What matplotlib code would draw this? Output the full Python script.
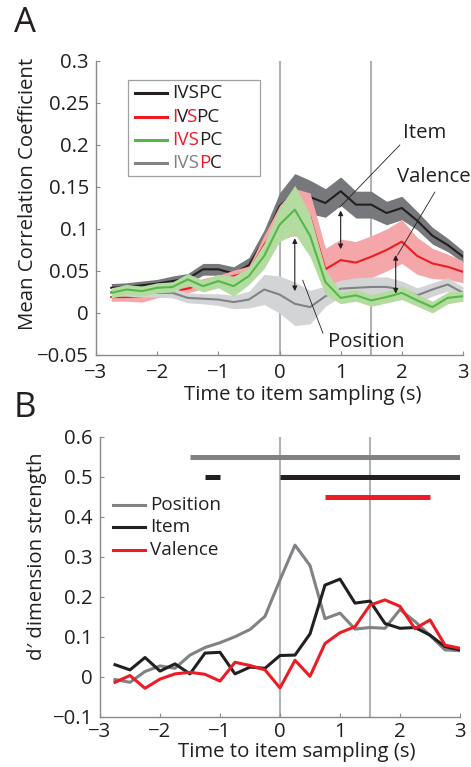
import numpy as np
import matplotlib
matplotlib.use("Agg")
import matplotlib.pyplot as plt
from matplotlib.patches import Rectangle
from matplotlib.lines import Line2D
from matplotlib.ticker import FuncFormatter

plt.rcParams['font.family'] = ['Open Sans', 'DejaVu Sans']

# ---------------- data ----------------
t = [-2.75, -2.5, -2.25, -2.0, -1.75, -1.5, -1.25, -1.0, -0.75, -0.5, -0.25, 0.0,
     0.25, 0.5, 0.75, 1.0, 1.25, 1.5, 1.75, 2.0, 2.25, 2.5, 2.75, 3.0]

# Panel A: mean correlation coefficient
item_corr = [0.030, 0.031, 0.033, 0.035, 0.038, 0.041, 0.052, 0.052, 0.047, 0.057, 0.087, 0.127,
             0.143, 0.138, 0.131, 0.145, 0.129, 0.129, 0.119, 0.125, 0.110, 0.092, 0.081, 0.067]
item_sem = [0.005, 0.005, 0.005, 0.005, 0.006, 0.006, 0.007, 0.007, 0.008, 0.009, 0.012, 0.016,
            0.023, 0.020, 0.017, 0.017, 0.016, 0.016, 0.014, 0.014, 0.011, 0.010, 0.008, 0.007]
val_corr = [0.019, 0.019, 0.020, 0.023, 0.026, 0.029, 0.035, 0.039, 0.044, 0.049, 0.081, 0.108,
            0.120, 0.115, 0.052, 0.063, 0.060, 0.067, 0.075, 0.085, 0.068, 0.059, 0.055, 0.049]
val_sem = [0.005, 0.005, 0.007, 0.005, 0.005, 0.005, 0.006, 0.006, 0.007, 0.007, 0.012, 0.020,
           0.028, 0.028, 0.025, 0.025, 0.025, 0.025, 0.025, 0.026, 0.022, 0.018, 0.015, 0.013]
pos_corr = [0.024, 0.028, 0.026, 0.030, 0.031, 0.040, 0.032, 0.038, 0.032, 0.044, 0.068, 0.105,
            0.123, 0.092, 0.037, 0.018, 0.021, 0.015, 0.019, 0.024, 0.015, 0.007, 0.018, 0.020]
pos_sem = [0.006, 0.006, 0.006, 0.006, 0.006, 0.007, 0.007, 0.008, 0.012, 0.010, 0.015, 0.020,
           0.029, 0.025, 0.015, 0.007, 0.007, 0.007, 0.007, 0.008, 0.007, 0.007, 0.007, 0.006]
ctrl_corr = [0.025, 0.025, 0.024, 0.024, 0.024, 0.018, 0.017, 0.016, 0.013, 0.016, 0.028, 0.022,
             0.011, 0.007, 0.020, 0.029, 0.030, 0.031, 0.031, 0.028, 0.021, 0.028, 0.034, 0.024]
ctrl_sem = [0.005, 0.005, 0.005, 0.005, 0.006, 0.006, 0.006, 0.007, 0.008, 0.010, 0.018, 0.022,
            0.026, 0.020, 0.012, 0.010, 0.012, 0.012, 0.012, 0.010, 0.009, 0.008, 0.008, 0.007]

# Panel B: d' dimension strength
pos_d = [-0.007, -0.014, 0.013, 0.027, 0.021, 0.054, 0.073, 0.085, 0.100, 0.118, 0.151, 0.242,
         0.329, 0.278, 0.145, 0.159, 0.119, 0.123, 0.121, 0.168, 0.138, 0.103, 0.067, 0.065]
item_d = [0.030, 0.017, 0.048, 0.014, 0.032, 0.007, 0.059, 0.061, 0.007, 0.024, 0.021, 0.053,
          0.054, 0.107, 0.229, 0.244, 0.184, 0.189, 0.133, 0.121, 0.123, 0.104, 0.075, 0.067]
val_d = [-0.014, 0.003, -0.029, -0.006, 0.007, 0.011, 0.006, -0.011, 0.036, 0.028, 0.017, -0.028,
         0.041, 0.001, 0.083, 0.110, 0.125, 0.179, 0.192, 0.176, 0.120, 0.142, 0.079, 0.071]

# significance bars: (start, end, level)
pos_sig = [(-1.5, 3.0, 0.55)]
item_sig = [(-1.25, -1.0, 0.50), (0.0, 3.0, 0.50)]
val_sig = [(0.75, 2.5, 0.45)]

event_times = [0.0, 1.5]

# ---------------- styling ----------------
C_BLACK = '#231f20'
C_RED = '#ed1c24'
C_GREEN = '#54b848'
C_GRAY = '#808285'
B_BLACK = '#77787b'
B_RED = '#f5a6a8'
B_GREEN = '#b5dca0'
B_GRAY = '#d3d4d5'
SPINE = '#8a8a8a'
TXT = '#231f20'

FS = 14.7
FS_LEG = 13.6

fig = plt.figure(figsize=(4.71, 7.67), dpi=100)
axA = fig.add_axes([96/471, 1-355/767, 367/471, 294/767])
axB = fig.add_axes([100/471, 1-716.7/767, 360/471, 280/767])

def fmt(v, pos):
    s = '%g' % round(v, 3)
    return s.replace('-', '\u2212')

for ax in (axA, axB):
    for s in ('top', 'right'):
        ax.spines[s].set_visible(False)
    for s in ('left', 'bottom'):
        ax.spines[s].set_color(SPINE)
        ax.spines[s].set_linewidth(1.0)
    ax.tick_params(direction='in', length=3, width=0.8, color=SPINE,
                   labelsize=FS, labelcolor=TXT)
    ax.xaxis.set_major_formatter(FuncFormatter(fmt))
    ax.yaxis.set_major_formatter(FuncFormatter(fmt))
    for et in event_times:
        ax.axvline(et, color='#b3b3b3', lw=1.5, zorder=0.5)

# ---- Panel A ----
tt = np.array(t)
series = [
    (item_corr, item_sem, C_BLACK, B_BLACK),
    (val_corr, val_sem, C_RED, B_RED),
    (ctrl_corr, ctrl_sem, C_GRAY, B_GRAY),
    (pos_corr, pos_sem, C_GREEN, B_GREEN),
]
z = 1
for m, s, c, bc in series:
    m = np.array(m); s = np.array(s)
    axA.fill_between(tt, m - s, m + s, color=bc, lw=0, zorder=z)
    axA.plot(tt, m, color=c, lw=1.5, zorder=z + 0.5)
    z += 1

axA.set_xlim(-3, 3)
axA.set_ylim(-0.05, 0.3)
axA.set_xticks(np.arange(-3, 4, 1))
axA.set_yticks(np.arange(-0.05, 0.301, 0.05))
axA.tick_params(axis='x', pad=6)
axA.tick_params(axis='y', pad=5)
axA.set_ylabel('Mean Correlation Coefficient', fontsize=FS, color=TXT)
axA.set_xlabel('Time to item sampling (s)', fontsize=FS, color=TXT)
axA.yaxis.set_label_coords(-0.185, 0.548)
axA.xaxis.set_label_coords(0.564, -0.136)
axA.xaxis.label.set_va('center')
axA.yaxis.label.set_va('center')

# difference arrows
arrows = [(0.25, 0.089, 0.026), (1.0, 0.122, 0.076), (1.9, 0.069, 0.023)]
for x, y1, y2 in arrows:
    axA.annotate('', xy=(x, y2), xytext=(x, y1),
                 arrowprops=dict(arrowstyle='<|-|>', color='#231f20', lw=0.8,
                                 mutation_scale=7, shrinkA=0, shrinkB=0), zorder=10)

# labels with leader lines
axA.plot([1.967, 0.987], [0.200, 0.126], color='#231f20', lw=0.6, zorder=10)
axA.text(2.02, 0.214, 'Item', fontsize=FS, color=TXT, va='center', ha='left', zorder=10)
axA.plot([2.54, 1.93], [0.144, 0.069], color='#231f20', lw=0.6, zorder=10)
axA.text(1.92, 0.162, 'Valence', fontsize=FS, color=TXT, va='center', ha='left', zorder=10)
axA.plot([0.71, 0.38], [-0.024, 0.039], color='#231f20', lw=0.6, zorder=10)
axA.text(0.79, -0.035, 'Position', fontsize=FS, color=TXT, va='center', ha='left', zorder=10)

# legend with multi-coloured labels
axA.add_patch(Rectangle((0.087, 0.609), 0.447 - 0.087, 0.935 - 0.609, transform=axA.transAxes,
                        facecolor='white', edgecolor='#a0a0a0', lw=0.9, zorder=20))
leg_rows = [
    (C_BLACK, [('IVSPC', C_BLACK)]),
    (C_RED, [('I', C_RED), ('V', C_BLACK), ('S', C_RED), ('PC', C_BLACK)]),
    (C_GREEN, [('IVS', C_RED), ('PC', C_BLACK)]),
    (C_GRAY, [('IVS', C_GRAY), ('P', C_RED), ('C', C_BLACK)]),
]
rows_y = [0.891, 0.810, 0.731, 0.653]
for (lc, parts), yy in zip(leg_rows, rows_y):
    axA.add_line(Line2D([0.106, 0.193], [yy, yy], transform=axA.transAxes, color=lc, lw=2.2, zorder=21))
    prev = None
    prev_txt = ''
    for txt, col in parts:
        if prev is None:
            prev = axA.text(0.207, yy, txt, transform=axA.transAxes, fontsize=FS_LEG, color=col,
                            va='center', ha='left', zorder=22)
        else:
            dx = -2.0 if prev_txt.endswith('V') else 0.0
            prev = axA.annotate(txt, xy=(1, 0), xycoords=prev, xytext=(dx, 0),
                                textcoords='offset points', va='bottom', ha='left',
                                fontsize=FS_LEG, color=col, zorder=22)
        prev_txt = txt

# ---- Panel B ----
b_series = [('Position', pos_d, C_GRAY), ('Item', item_d, C_BLACK), ('Valence', val_d, C_RED)]
for i, (name, vals, c) in enumerate(b_series):
    axB.plot(tt, vals, color=c, lw=2.2, zorder=3 + i)
for sig, c in ((pos_sig, C_GRAY), (item_sig, C_BLACK), (val_sig, C_RED)):
    for a, b, lev in sig:
        axB.plot([a, b], [lev, lev], color=c, lw=3.6, solid_capstyle='butt', zorder=6)

# legend (manual placement)
legB_y = [0.756, 0.677, 0.595]
for (name, vals, c), yy in zip(b_series, legB_y):
    axB.add_line(Line2D([0.036, 0.125], [yy, yy], transform=axB.transAxes, color=c, lw=2.2, zorder=21))
    axB.text(0.139, yy, name, transform=axB.transAxes, fontsize=FS_LEG, color=TXT,
             va='center', ha='left', zorder=22)

axB.set_xlim(-3, 3)
axB.set_ylim(-0.1, 0.6)
axB.set_xticks(np.arange(-3, 4, 1))
axB.set_yticks(np.arange(-0.1, 0.601, 0.1))
axB.tick_params(axis='x', pad=4)
axB.tick_params(axis='y', pad=5)
axB.set_ylabel('d\u2032 dimension strength', fontsize=FS, color=TXT)
axB.set_xlabel('Time to item sampling (s)', fontsize=FS, color=TXT)
axB.yaxis.set_label_coords(-0.175, 0.572)
axB.xaxis.set_label_coords(0.547, -0.125)
axB.xaxis.label.set_va('center')
axB.yaxis.label.set_va('center')

fig.text(14/471, 1-6/767, 'A', fontsize=25, color=TXT, va='top', ha='left')
fig.text(14/471, 1-391/767, 'B', fontsize=25, color=TXT, va='top', ha='left')

fig.savefig('out.png', dpi=100)
